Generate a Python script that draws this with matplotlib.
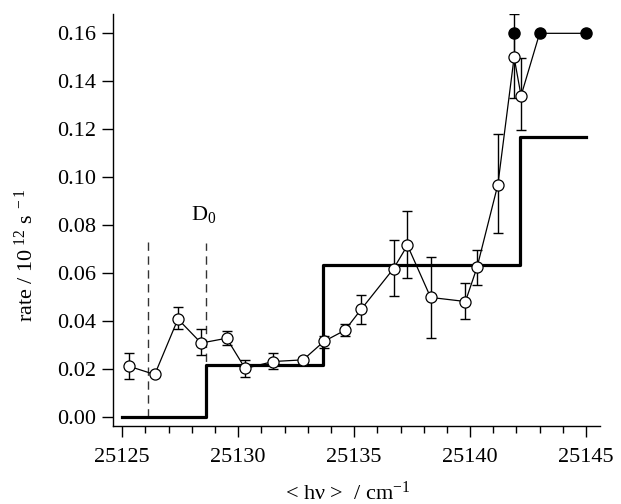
import numpy as np
import matplotlib
matplotlib.use("Agg")
import matplotlib.pyplot as plt
from matplotlib.ticker import MultipleLocator, FormatStrFormatter

plt.rcParams['font.family'] = 'Liberation Serif'
plt.rcParams['mathtext.fontset'] = 'custom'
plt.rcParams['mathtext.rm'] = 'Liberation Serif'
plt.rcParams['mathtext.it'] = 'Liberation Serif:italic'
plt.rcParams['mathtext.default'] = 'rm'

# measured rates (open circles) with error bar limits
energy = [25125.3, 25126.4, 25127.4, 25128.4, 25129.5, 25130.3, 25131.5, 25132.8,
          25133.7, 25134.6, 25135.3, 25136.7, 25137.3, 25138.3, 25139.8, 25140.3,
          25141.2, 25141.9, 25142.2]
rate = [0.0213, 0.0179, 0.041, 0.031, 0.033, 0.0204, 0.0233, 0.024,
        0.0317, 0.0363, 0.045, 0.062, 0.0717, 0.050, 0.0483, 0.0625,
        0.097, 0.150, 0.134]
err_hi = [0.027, None, 0.046, 0.037, 0.036, 0.024, 0.027, 0.025,
          0.034, 0.0388, 0.051, 0.074, 0.086, 0.067, 0.056, 0.0696,
          0.118, 0.168, 0.1496]
err_lo = [0.016, None, 0.037, 0.026, 0.030, 0.017, 0.020, 0.023,
          0.029, 0.034, 0.039, 0.0506, 0.058, 0.033, 0.041, 0.055,
          0.077, 0.133, 0.1196]

# saturated points (filled)
sat_energy = [25141.9, 25143.0, 25145.0]
sat_rate = [0.16, 0.16, 0.16]

# calculated step function
step_energy = [25125.0, 25128.6, 25133.65, 25142.15, 25145.0]
step_rate = [0.0, 0.022, 0.0635, 0.117, 0.117]

# dashed markers
dash_x = [25126.1, 25128.6]
dash_top = [0.073, 0.0725]

rate = np.array(rate)
lo = np.array([r - l if l is not None else 0 for r, l in zip(rate, err_lo)])
hi = np.array([h - r if h is not None else 0 for r, h in zip(rate, err_hi)])

fig, ax = plt.subplots(figsize=(6.21, 5.04), dpi=100)
fig.subplots_adjust(left=0.182, right=0.966, bottom=0.155, top=0.972)

ax.step(step_energy, step_rate, where='post', color='black', lw=2.3, zorder=2)

for x, t in zip(dash_x, dash_top):
    ax.plot([x, x], [0, t], color='#333333', lw=1.0, ls=(0, (6, 4)), zorder=1)
ax.text(dash_x[1] - 0.1, 0.080, r'D$_0$', ha='center', va='bottom', fontsize=16)

ax.errorbar(energy, rate, yerr=[lo, hi], fmt='none', ecolor='black',
            elinewidth=1.0, capsize=3.6, capthick=1.0, zorder=3)
ax.plot(energy, rate, color='black', lw=0.9, zorder=4)
ax.plot([energy[-1]] + sat_energy[1:], [rate[-1]] + sat_rate[1:],
        color='black', lw=0.9, zorder=4)
ax.plot([energy[-2], sat_energy[0]], [rate[-2], sat_rate[0]], color='black', lw=0.9, zorder=4)
ax.plot(energy, rate, 'o', mfc='white', mec='black', ms=8, mew=0.9, zorder=5)
ax.plot(sat_energy, sat_rate, 'o', mfc='black', mec='black', ms=8, zorder=5)

ax.set_xlim(25124.6, 25145.6)
ax.set_ylim(-0.0035, 0.168)
ax.xaxis.set_major_locator(MultipleLocator(5))
ax.xaxis.set_minor_locator(MultipleLocator(1))
ax.yaxis.set_major_locator(MultipleLocator(0.02))
ax.yaxis.set_major_formatter(FormatStrFormatter('%.2f'))
ax.xaxis.set_major_formatter(FormatStrFormatter('%d'))

for s in ['top', 'right']:
    ax.spines[s].set_visible(False)
for s in ['left', 'bottom']:
    ax.spines[s].set_linewidth(1.0)

ax.tick_params(axis='both', which='major', direction='out', length=8, width=1,
               labelsize=16)
ax.tick_params(axis='x', which='major', pad=8)
ax.tick_params(axis='y', which='major', pad=4)
ax.tick_params(axis='x', which='minor', direction='out', length=5, width=1)

ax.set_ylabel(r'rate / 10$^{\ 12}$ s$^{\ -1}$', fontsize=16)
ax.yaxis.set_label_coords(-0.155, 0.415)
ax.set_xlabel(r'< hν >  / cm$^{-1}$', fontsize=16)
ax.xaxis.set_label_coords(0.483, -0.135)

plt.savefig('out.png', dpi=100)
